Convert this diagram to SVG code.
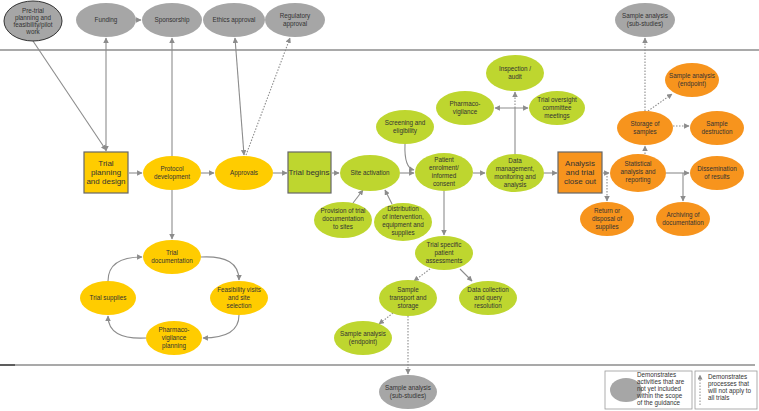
<svg xmlns="http://www.w3.org/2000/svg" width="759" height="411" viewBox="0 0 759 411">
<style>
text{font-family:"Liberation Sans",Arial,sans-serif;font-size:6.3px;fill:#333;text-anchor:middle}
.r text{font-size:8px}
.g{fill:#A6A6A6}
.y{fill:#FFCC00}
.n{fill:#BED62F}
.o{fill:#F7941D}
.rect{stroke:#666;stroke-width:1.2}
.c path{fill:none;stroke:#8C8C8C;stroke-width:1.1}
.c .d{stroke-dasharray:1.5,1.5}
</style>
<defs>
<marker id="a" viewBox="0 0 10 10" refX="9" refY="5" markerWidth="5" markerHeight="5" orient="auto-start-reverse"><path d="M0,0L10,5L0,10z" fill="#8C8C8C"/></marker>
</defs>
<line x1="0" y1="50" x2="759" y2="50" stroke="#8C8C8C" stroke-width="1.3"/>
<line x1="0" y1="365" x2="755" y2="365" stroke="#8C8C8C" stroke-width="1.3"/>
<line x1="0" y1="365" x2="15" y2="365" stroke="#333" stroke-width="1.3"/>
<g class="c">
<path d="M33,41L106,150" marker-end="url(#a)"/>
<path d="M106,151L106,38" marker-start="url(#a)" marker-end="url(#a)"/>
<path d="M136,20L141,20" marker-end="url(#a)"/>
<path d="M172,156L172,38" marker-end="url(#a)"/>
<path d="M244,155L235,38" marker-start="url(#a)" marker-end="url(#a)"/>
<path class="d" d="M246,155L290,38" marker-end="url(#a)"/>
<path d="M129,173L142,173" marker-end="url(#a)"/>
<path d="M201,173L214,173" marker-end="url(#a)"/>
<path d="M273,173L287,173" marker-end="url(#a)"/>
<path d="M332,173L339,173" marker-end="url(#a)"/>
<path d="M400,173L414,173" marker-end="url(#a)"/>
<path d="M473,173L485,173" marker-end="url(#a)"/>
<path d="M544,173L557,173" marker-end="url(#a)"/>
<path d="M603,173L609,173" marker-end="url(#a)"/>
<path d="M666,173L689,173" marker-end="url(#a)"/>
<path d="M683,173L683,201" marker-end="url(#a)"/>
<path class="d" d="M607,173L607,201" marker-end="url(#a)"/>
<path class="d" d="M645,154L645,146" marker-end="url(#a)"/>
<path class="d" d="M645,111L645,38" marker-end="url(#a)"/>
<path class="d" d="M648,111L672,94" marker-end="url(#a)"/>
<path class="d" d="M673,126L689,126" marker-end="url(#a)"/>
<path d="M172,190L172,239" marker-end="url(#a)"/>
<path d="M201,257Q239,255 239,280" marker-end="url(#a)"/>
<path d="M239,315Q239,338 203,338" marker-end="url(#a)"/>
<path d="M146,338Q108,340 108,316" marker-end="url(#a)"/>
<path d="M108,281Q108,257 142,257" marker-end="url(#a)"/>
<path d="M405,144Q404,168 414,170" marker-end="url(#a)"/>
<path d="M353,203L363,190" marker-end="url(#a)"/>
<path d="M392,204L385,190" marker-end="url(#a)"/>
<path d="M444,191L444,235" marker-end="url(#a)"/>
<path class="d" d="M430,269L414,281" marker-end="url(#a)"/>
<path d="M460,269L472,281" marker-end="url(#a)"/>
<path class="d" d="M393,313L379,324" marker-end="url(#a)"/>
<path class="d" d="M408,316L408,374" marker-end="url(#a)"/>
<path d="M515,154L515,108"/>
<path class="d" d="M515,108L515,92" marker-end="url(#a)"/>
<path d="M495,108L528,108" marker-start="url(#a)" marker-end="url(#a)"/>
</g>
<g id="pretrial"><ellipse cx="33" cy="21" rx="29" ry="20" class="g" stroke="#333" stroke-width="1"/><text x="33" y="13">Pre-trial</text><text x="33" y="20">planning and</text><text x="33" y="27">feasibility/pilot</text><text x="33" y="34">work</text></g>
<g id="funding"><ellipse cx="106" cy="20" rx="30" ry="17" class="g"/><text x="106" y="22">Funding</text></g>
<g id="sponsorship"><ellipse cx="172" cy="20" rx="30" ry="17" class="g"/><text x="172" y="22">Sponsorship</text></g>
<g id="ethics"><ellipse cx="234" cy="20" rx="31" ry="17" class="g"/><text x="234" y="22">Ethics approval</text></g>
<g id="regulatory"><ellipse cx="295" cy="20" rx="30" ry="17" class="g"/><text x="295" y="18">Regulatory</text><text x="295" y="26">approval</text></g>
<g id="subtop"><ellipse cx="645" cy="20" rx="30" ry="17" class="g"/><text x="645" y="18">Sample analysis</text><text x="645" y="26">(sub-studies)</text></g>
<g id="planning" class="r"><rect x="84" y="152" width="44" height="41" class="y rect"/><text x="106" y="166">Trial</text><text x="106" y="175">planning</text><text x="106" y="184">and design</text></g>
<g id="protocol"><ellipse cx="172" cy="173" rx="29" ry="17" class="y"/><text x="172" y="171">Protocol</text><text x="172" y="179">development</text></g>
<g id="approvals"><ellipse cx="244" cy="173" rx="29" ry="17" class="y"/><text x="244" y="175">Approvals</text></g>
<g id="begins" class="r"><rect x="288" y="152" width="43" height="41" class="n rect"/><text x="309" y="175">Trial begins</text></g>
<g id="siteact"><ellipse cx="370" cy="173" rx="30" ry="18" class="n"/><text x="370" y="175">Site activation</text></g>
<g id="screening"><ellipse cx="405" cy="127" rx="29" ry="17" class="n"/><text x="405" y="125">Screening and</text><text x="405" y="133">eligibility</text></g>
<g id="enrolment"><ellipse cx="444" cy="172" rx="29" ry="19" class="n"/><text x="444" y="162">Patient</text><text x="444" y="170">enrolment/</text><text x="444" y="178">informed</text><text x="444" y="186">consent</text></g>
<g id="datamgmt"><ellipse cx="515" cy="173" rx="29" ry="19" class="n"/><text x="515" y="163">Data</text><text x="515" y="171">management,</text><text x="515" y="179">monitoring and</text><text x="515" y="187">analysis</text></g>
<g id="inspection"><ellipse cx="515" cy="73" rx="29" ry="18" class="n"/><text x="515" y="71">Inspection /</text><text x="515" y="79">audit</text></g>
<g id="pharmaco"><ellipse cx="465" cy="108" rx="29" ry="17" class="n"/><text x="465" y="106">Pharmaco-</text><text x="465" y="114">vigilance</text></g>
<g id="oversight"><ellipse cx="557" cy="108" rx="28" ry="17" class="n"/><text x="557" y="102">Trial oversight</text><text x="557" y="110">committee</text><text x="557" y="118">meetings</text></g>
<g id="provision"><ellipse cx="343" cy="220" rx="29" ry="18" class="n"/><text x="343" y="213">Provision of trial</text><text x="343" y="221">documentation</text><text x="343" y="229">to sites</text></g>
<g id="distribution"><ellipse cx="403" cy="222" rx="29" ry="19" class="n"/><text x="403" y="211">Distribution</text><text x="403" y="219">of intervention,</text><text x="403" y="227">equipment and</text><text x="403" y="235">supplies</text></g>
<g id="trialspecific"><ellipse cx="444" cy="253" rx="29" ry="17" class="n"/><text x="444" y="247">Trial specific</text><text x="444" y="255">patient</text><text x="444" y="263">assessments</text></g>
<g id="transport"><ellipse cx="408" cy="298" rx="29" ry="18" class="n"/><text x="408" y="292">Sample</text><text x="408" y="300">transport and</text><text x="408" y="308">storage</text></g>
<g id="datacollection"><ellipse cx="488" cy="298" rx="29" ry="17" class="n"/><text x="488" y="292">Data collection</text><text x="488" y="300">and query</text><text x="488" y="308">resolution</text></g>
<g id="endpointgreen"><ellipse cx="363" cy="338" rx="29" ry="17" class="n"/><text x="363" y="336">Sample analysis</text><text x="363" y="344">(endpoint)</text></g>
<g id="subbottom"><ellipse cx="408" cy="392" rx="29" ry="17" class="g"/><text x="408" y="390">Sample analysis</text><text x="408" y="398">(sub-studies)</text></g>
<g id="trialdoc"><ellipse cx="172" cy="257" rx="29" ry="17" class="y"/><text x="172" y="255">Trial</text><text x="172" y="263">documentation</text></g>
<g id="feasibility"><ellipse cx="239" cy="298" rx="29" ry="17" class="y"/><text x="239" y="292">Feasibility visits</text><text x="239" y="300">and site</text><text x="239" y="308">selection</text></g>
<g id="pvplanning"><ellipse cx="174" cy="338" rx="28" ry="17" class="y"/><text x="174" y="332">Pharmaco-</text><text x="174" y="340">vigilance</text><text x="174" y="348">planning</text></g>
<g id="supplies"><ellipse cx="108" cy="298" rx="28" ry="17" class="y"/><text x="108" y="300">Trial supplies</text></g>
<g id="closeout" class="r"><rect x="558" y="152" width="44" height="41" class="o rect"/><text x="580" y="166">Analysis</text><text x="580" y="175">and trial</text><text x="580" y="184">close out</text></g>
<g id="statistical"><ellipse cx="638" cy="173" rx="28" ry="19" class="o"/><text x="638" y="166">Statistical</text><text x="638" y="174">analysis and</text><text x="638" y="182">reporting</text></g>
<g id="storage"><ellipse cx="645" cy="128" rx="28" ry="17" class="o"/><text x="645" y="126">Storage of</text><text x="645" y="134">samples</text></g>
<g id="endpointorange"><ellipse cx="692" cy="80" rx="27" ry="17" class="o"/><text x="692" y="78">Sample analysis</text><text x="692" y="86">(endpoint)</text></g>
<g id="destruction"><ellipse cx="717" cy="128" rx="27" ry="17" class="o"/><text x="717" y="126">Sample</text><text x="717" y="134">destruction</text></g>
<g id="dissemination"><ellipse cx="717" cy="173" rx="27" ry="17" class="o"/><text x="717" y="171">Dissemination</text><text x="717" y="179">of results</text></g>
<g id="archiving"><ellipse cx="683" cy="219" rx="27" ry="17" class="o"/><text x="683" y="217">Archiving of</text><text x="683" y="225">documentation</text></g>
<g id="return"><ellipse cx="607" cy="219" rx="27" ry="17" class="o"/><text x="607" y="213">Return or</text><text x="607" y="221">disposal of</text><text x="607" y="229">supplies</text></g>
<g id="legend" style="text-anchor:start">
<rect x="605" y="371" width="87" height="38" fill="#fff" stroke="#999" stroke-width="0.8"/>
<ellipse cx="626" cy="390" rx="16" ry="12" class="g"/>
<text x="637" y="377" style="text-anchor:start">Demonstrates</text><text x="637" y="384" style="text-anchor:start">activities that are</text><text x="637" y="391" style="text-anchor:start">not yet included</text><text x="637" y="398" style="text-anchor:start">within the scope</text><text x="637" y="405" style="text-anchor:start">of the guidance</text>
<rect x="695" y="371" width="62" height="38" fill="#fff" stroke="#999" stroke-width="0.8"/>
<path d="M700,405L700,375" stroke="#8C8C8C" stroke-width="1" stroke-dasharray="1.5,1.5" marker-end="url(#a)"/>
<text x="708" y="379" style="text-anchor:start">Demonstrates</text><text x="708" y="386" style="text-anchor:start">processes that</text><text x="708" y="393" style="text-anchor:start">will not apply to</text><text x="708" y="400" style="text-anchor:start">all trials</text>
</g>
</svg>
